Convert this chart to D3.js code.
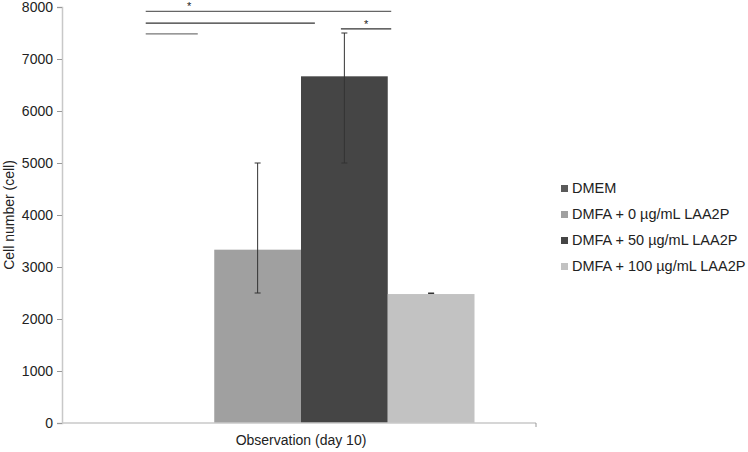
<!DOCTYPE html>
<html><head><meta charset="utf-8">
<script src="https://cdn.jsdelivr.net/npm/d3@7"></script>
<style>
body{margin:0;background:#fff;}
text{font-family:"Liberation Sans",Arial,Helvetica,sans-serif;fill:#222;}
</style></head>
<body><svg id="c" width="748" height="452"></svg>
<script>
const categories = ["Observation (day 10)"];
const seriesNames = ["DMEM","DMFA + 0 µg/mL LAA2P","DMFA + 50 µg/mL LAA2P","DMFA + 100 µg/mL LAA2P"];
const seriesColors = ["#5a5a5a","#a0a0a0","#454545","#c2c2c2"];
const values = [0, 3333, 6667, 2480];
const errLow = [0, 2500, 5000, 2490];
const errHigh = [0, 5000, 7500, 2500];
const yTicks = [0,1000,2000,3000,4000,5000,6000,7000,8000];
// significance brackets: start/end in bar-index units within the group, y in data units
const sigFrom = [0.21, 0.21, 0.21, 2.46];
const sigTo   = [3.04, 2.16, 0.81, 3.04];
const sigY    = [7915, 7690, 7485, 7580];
const sigStar = [true, false, false, true];
const sigStarX = [0.71, 0, 0, 2.75];
const sigColor = ["#666","#333","#777","#333"];

(function(){
const svg = d3.select("#c");
const mL = 62, mR = 536, mT = 7, mB = 423;
const y = d3.scaleLinear().domain([0,8000]).range([mB, mT]);
const x0 = d3.scaleBand().domain(categories).range([mL+2, mR+2]).paddingInner(0).paddingOuter(0.183);
const x1 = d3.scaleBand().domain(seriesNames).range([0, x0.bandwidth()]);
const bw = x1.bandwidth();
const gx = x0(categories[0]);
const bx = v => gx + v*bw;

// y axis
const yAxis = d3.axisLeft(y).tickValues(yTicks).tickSize(5).tickPadding(4).tickFormat(d3.format("d"));
const ya = svg.append("g").attr("transform",`translate(${mL},0)`).call(yAxis);
ya.select(".domain").attr("stroke","#c8c8c8").attr("stroke-width",1.5);
ya.selectAll(".tick line").attr("stroke","#999");
ya.selectAll(".tick text").attr("font-size",14).style("font-family","'Liberation Sans',Arial,sans-serif").attr("fill","#222");

// bars
const g = svg.append("g");
g.selectAll("rect").data(values).join("rect")
  .attr("x",(d,i)=>gx + x1(seriesNames[i]))
  .attr("width",bw)
  .attr("y",d=>y(d))
  .attr("height",d=>mB - y(d))
  .attr("fill",(d,i)=>seriesColors[i]);

// x axis
const xa = svg.append("g").attr("transform",`translate(0,${mB})`);
xa.append("line").attr("x1",mL).attr("x2",mR).attr("stroke","#c8c8c8").attr("stroke-width",1.5);
xa.append("line").attr("x1",mR).attr("x2",mR).attr("y1",0).attr("y2",4).attr("stroke","#999");
xa.append("text").attr("x",gx + x0.bandwidth()/2).attr("y",22).attr("text-anchor","middle").attr("font-size",14).text(categories[0]);

// error bars
values.forEach((v,i)=>{
  if(i===0) return;
  const cx = gx + x1(seriesNames[i]) + bw/2;
  const eg = svg.append("g").attr("stroke","#333").attr("stroke-width",1);
  eg.append("line").attr("x1",cx).attr("x2",cx).attr("y1",y(errLow[i])).attr("y2",y(errHigh[i]));
  eg.append("line").attr("x1",cx-3).attr("x2",cx+3).attr("y1",y(errLow[i])).attr("y2",y(errLow[i]));
  eg.append("line").attr("x1",cx-3).attr("x2",cx+3).attr("y1",y(errHigh[i])).attr("y2",y(errHigh[i]));
});

// significance lines
sigFrom.forEach((f,i)=>{
  svg.append("line").attr("x1",bx(f)).attr("x2",bx(sigTo[i])).attr("y1",y(sigY[i])).attr("y2",y(sigY[i]))
    .attr("stroke",sigColor[i]).attr("stroke-width",1.2);
  if(sigStar[i]) svg.append("text").attr("x",bx(sigStarX[i])).attr("y",y(sigY[i])-1).attr("text-anchor","middle").attr("font-size",11).text("*");
});

// y label
svg.append("text").attr("transform",`translate(14,215) rotate(-90)`).attr("text-anchor","middle").attr("font-size",14).text("Cell number (cell)");

// legend
const lg = svg.append("g").attr("transform","translate(561,188)");
seriesNames.forEach((n,i)=>{
  const r = lg.append("g").attr("transform",`translate(0,${i*26})`);
  r.append("rect").attr("x",0).attr("y",-3).attr("width",7).attr("height",7).attr("fill",seriesColors[i]);
  r.append("text").attr("x",11).attr("y",5).attr("font-size",14.5).text(n);
});
})();
</script></body></html>
